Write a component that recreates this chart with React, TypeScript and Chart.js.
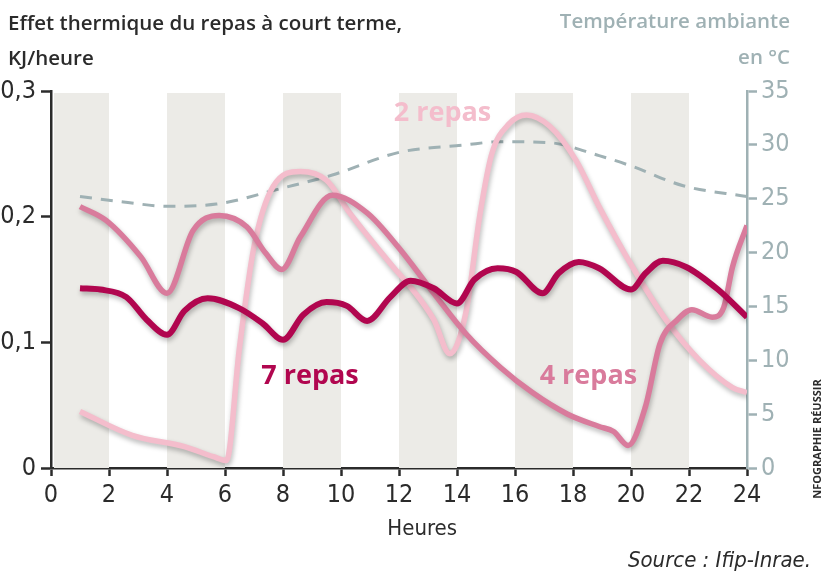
import React, { useEffect, useRef } from "react";
import { Chart, registerables } from "chart.js";

Chart.register(...registerables);

// ---- Data ----
const hours7 = [1, 1.7, 2.6, 3.3, 4.0, 4.6, 5.4, 6.5, 7.3, 8.0, 8.7, 9.5, 10.2, 10.9, 11.7, 12.4, 13.2, 14.0, 14.6, 15.4, 16.05, 16.95, 17.5, 18.2, 18.9, 20.0, 20.5, 21.1, 21.9, 23.0, 24.0];
const values7 = [0.143, 0.142, 0.136, 0.118, 0.106, 0.125, 0.135, 0.127, 0.115, 0.102, 0.122, 0.132, 0.129, 0.117, 0.136, 0.149, 0.143, 0.131, 0.15, 0.159, 0.156, 0.139, 0.155, 0.164, 0.159, 0.142, 0.155, 0.165, 0.16, 0.142, 0.12];

const hours4 = [1, 1.9, 3.1, 4.0, 4.9, 5.8, 6.75, 7.4, 7.96, 8.6, 9.7, 10.9, 12.0, 13.2, 14.3, 15.5, 16.6, 17.8, 18.9, 19.4, 19.9, 20.5, 21.0, 21.6, 22.1, 22.8, 23.2, 23.5, 24];
const values4 = [0.208, 0.197, 0.168, 0.139, 0.189, 0.201, 0.192, 0.171, 0.158, 0.184, 0.217, 0.203, 0.175, 0.139, 0.107, 0.08, 0.06, 0.043, 0.033, 0.029, 0.018, 0.049, 0.099, 0.118, 0.126, 0.12, 0.128, 0.16, 0.193];

const hours2 = [1, 2.8, 4.6, 5.6, 6.05, 6.5, 7.0, 7.66, 8.6, 9.5, 10.3, 11.8, 12.4, 13.2, 13.75, 14.3, 14.8, 15.2, 15.8, 16.4, 17.2, 18.1, 18.9, 20.05, 21.2, 22.35, 23.5, 24];
const values2 = [0.045, 0.026, 0.017, 0.009, 0.006, 0.096, 0.176, 0.224, 0.236, 0.229, 0.203, 0.16, 0.144, 0.118, 0.091, 0.123, 0.203, 0.25, 0.274, 0.281, 0.272, 0.245, 0.208, 0.16, 0.118, 0.086, 0.064, 0.06];

const hoursTemp = [1, 2.5, 4.0, 5.7, 8.0, 9.7, 12.0, 14.3, 15.5, 17.2, 18.9, 20.05, 21.8, 24];
const valuesTemp = [25.2, 24.7, 24.3, 24.5, 26, 27.2, 29.3, 30, 30.3, 30.2, 29, 28, 26.2, 25.2];

const bandStarts = [0, 4, 8, 12, 16, 20];
const bandWidth = 2;

const seriesLabels = ["7 repas", "4 repas", "2 repas", "Température ambiante"];
const labelAnchors = [
  { text: "7 repas", x: 8.93, y: 0.073 },
  { text: "4 repas", x: 18.53, y: 0.073 },
  { text: "2 repas", x: 13.5, y: 0.282 },
];

const titleLeft = ["Effet thermique du repas à court terme,", "KJ/heure"];
const titleRight = ["Température ambiante", "en °C"];
const xTitle = "Heures";
const sourceText = "Source : Ifip-Inrae.";
const creditText = "NFOGRAPHIE RÉUSSIR";

const COL7 = "#b1064f";
const COL4 = "#d97b9c";
const COL2 = "#f4bdcc";
const COLT = "#9fb1b4";
const DARK = "#2b2b2b";
const BAND = "#ecebe7";
const NARROW = '"Liberation Sans Narrow", "DejaVu Sans Condensed", sans-serif';
const ROUND = '"Open Sans", "Noto Sans", sans-serif';

const zip = (xs: number[], ys: number[]) => xs.map((x, i) => ({ x, y: ys[i] }));

const bandsPlugin = {
  id: "bands",
  beforeDatasetsDraw(chart: any) {
    const { ctx, scales } = chart;
    const x = scales.x;
    const y = scales.y;
    ctx.save();
    ctx.fillStyle = BAND;
    const top = y.getPixelForValue(0.3) + 2;
    const bottom = y.getPixelForValue(0);
    bandStarts.forEach((s) => {
      const x0 = x.getPixelForValue(s) + (s === 0 ? 3 : 0);
      const x1 = x.getPixelForValue(s + bandWidth);
      ctx.fillRect(x0, top, x1 - x0, bottom - top);
    });
    ctx.restore();
  },
};

const shadowPlugin = {
  id: "lineShadow",
  beforeDatasetDraw(chart: any, args: any) {
    const ctx = chart.ctx;
    ctx.save();
    if (args.index < 3) {
      ctx.shadowColor = "rgba(0,0,0,0.28)";
      ctx.shadowBlur = 5;
      ctx.shadowOffsetX = 1;
      ctx.shadowOffsetY = 3;
    }
  },
  afterDatasetDraw(chart: any) {
    chart.ctx.restore();
  },
};

const textPlugin = {
  id: "texts",
  afterDraw(chart: any) {
    const { ctx, scales } = chart;
    const x = scales.x;
    const y = scales.y;
    ctx.save();
    // titles
    ctx.textBaseline = "alphabetic";
    ctx.fillStyle = DARK;
    ctx.font = `600 20.5px ${ROUND}`;
    ctx.textAlign = "left";
    ctx.fillText(titleLeft[0], 8, 30);
    ctx.fillText(titleLeft[1], 8, 65);
    ctx.fillStyle = COLT;
    ctx.textAlign = "right";
    ctx.fillText(titleRight[0], 790, 28);
    ctx.fillText(titleRight[1], 790, 64);

    // series labels
    const cols = [COL7, COL4, COL2];
    ctx.font = `bold 27px ${ROUND}`;
    ctx.textAlign = "center";
    ctx.textBaseline = "middle";
    labelAnchors.forEach((l, i) => {
      ctx.fillStyle = cols[i];
      ctx.fillText(l.text, x.getPixelForValue(l.x), y.getPixelForValue(l.y));
    });

    // x title
    ctx.fillStyle = DARK;
    ctx.font = `22px ${NARROW}`;
    ctx.textAlign = "center";
    ctx.textBaseline = "alphabetic";
    ctx.fillText(xTitle, x.getPixelForValue(12.8), 535);

    // source
    ctx.font = `italic 22px ${NARROW}`;
    ctx.textAlign = "right";
    ctx.fillText(sourceText, 811, 567);

    // credit
    ctx.translate(818, 439);
    ctx.rotate(-Math.PI / 2);
    ctx.font = `bold 11px ${ROUND}`;
    ctx.textAlign = "center";
    ctx.textBaseline = "middle";
    ctx.fillText(creditText, 0, 0);
    ctx.restore();
  },
};

export default function App() {
  const ref = useRef<HTMLCanvasElement | null>(null);
  useEffect(() => {
    if (!ref.current) return;
    const chart = new Chart(ref.current, {
      type: "line",
      data: {
        datasets: [
          {
            label: seriesLabels[0],
            data: zip(hours7, values7),
            borderColor: COL7,
            borderWidth: 6,
            pointRadius: 0,
            cubicInterpolationMode: "monotone",
            yAxisID: "y",
          },
          {
            label: seriesLabels[1],
            data: zip(hours4, values4),
            borderColor: COL4,
            borderWidth: 5.5,
            pointRadius: 0,
            cubicInterpolationMode: "monotone",
            yAxisID: "y",
          },
          {
            label: seriesLabels[2],
            data: zip(hours2, values2),
            borderColor: COL2,
            borderWidth: 5.5,
            pointRadius: 0,
            cubicInterpolationMode: "monotone",
            yAxisID: "y",
          },
          {
            label: seriesLabels[3],
            data: zip(hoursTemp, valuesTemp),
            borderColor: COLT,
            borderWidth: 3,
            borderDash: [12, 9],
            pointRadius: 0,
            cubicInterpolationMode: "monotone",
            yAxisID: "y1",
          },
        ] as any,
      },
      options: {
        responsive: false,
        animation: false,
        layout: { padding: { top: 91, left: 0, right: 0, bottom: 0 } },
        plugins: {
          legend: { display: false },
          tooltip: { enabled: false },
        },
        scales: {
          x: {
            type: "linear",
            min: 0,
            max: 24,
            afterFit: (s: any) => {
              s.height = 108;
            },
            ticks: {
              stepSize: 2,
              color: DARK,
              font: { family: NARROW, size: 25 },
              padding: 4,
              maxRotation: 0,
            },
            grid: {
              drawOnChartArea: false,
              tickLength: 8,
              tickColor: DARK,
              tickWidth: 2.5,
            },
            border: { color: DARK, width: 2.5 },
          },
          y: {
            position: "left",
            min: 0,
            max: 0.3,
            afterFit: (s: any) => {
              s.width = 51;
            },
            ticks: {
              stepSize: 0.1,
              color: DARK,
              font: { family: NARROW, size: 25 },
              padding: 5,
              callback: (v: any) => (Number(v) === 0 ? "0" : Number(v).toFixed(1).replace(".", ",")),
            },
            grid: {
              drawOnChartArea: false,
              tickLength: 10,
              tickColor: DARK,
              tickWidth: 2.5,
            },
            border: { color: DARK, width: 2.5 },
          },
          y1: {
            position: "right",
            min: 0,
            max: 35,
            afterFit: (s: any) => {
              s.width = 91;
            },
            ticks: {
              stepSize: 5,
              color: COLT,
              font: { family: NARROW, size: 25 },
              padding: 4,
            },
            grid: {
              drawOnChartArea: false,
              tickLength: 10,
              tickColor: COLT,
              tickWidth: 2.5,
            },
            border: { color: COLT, width: 2.5 },
          },
        },
      } as any,
      plugins: [bandsPlugin, shadowPlugin, textPlugin],
    });
    return () => chart.destroy();
  }, []);
  return (
    <div style={{ position: "absolute", left: 0, top: 0, width: 838, height: 576, background: "#fff" }}>
      <canvas ref={ref} width={838} height={576} style={{ width: 838, height: 576 }} />
    </div>
  );
}
